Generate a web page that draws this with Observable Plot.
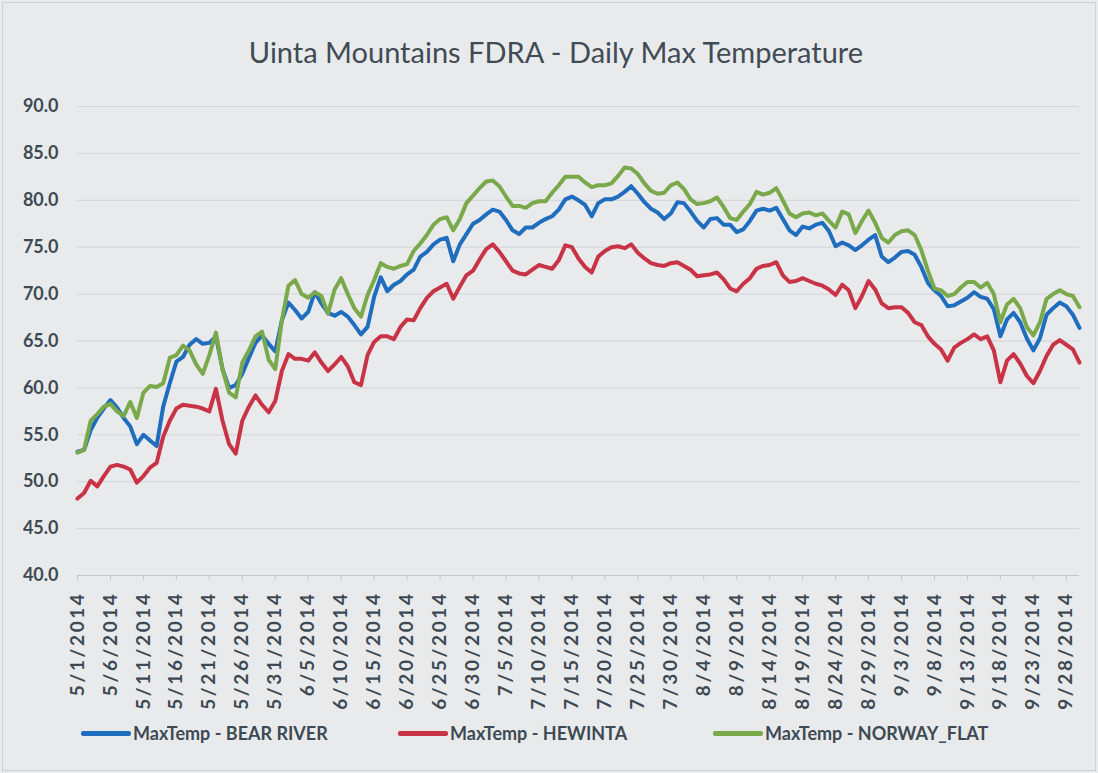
<!DOCTYPE html>
<html><head><meta charset="utf-8">
<script src="https://cdn.jsdelivr.net/npm/d3@7"></script>
<script src="https://cdn.jsdelivr.net/npm/@observablehq/plot@0.6"></script>
<style>
html,body{margin:0;padding:0;background:#e9eaec;}
body{width:1098px;height:773px;position:relative;overflow:hidden;font-family:Lato,"Open Sans",sans-serif;color:#3d4a53;}
#frame{position:absolute;left:2px;top:2px;right:2px;bottom:2px;border:1px solid #cfd0d2;}
#title{position:absolute;left:0;width:1112px;top:37px;text-align:center;font-size:29px;line-height:29px;color:#3f4c55;}
#chart{position:absolute;left:0;top:86px;}
#chart [aria-label="x-axis tick label"] text{letter-spacing:2.6px;}
.leg{position:absolute;top:723px;height:20px;display:flex;align-items:center;font-size:18px;font-weight:bold;white-space:nowrap;}
.leg .sw{display:inline-block;width:50px;height:5px;border-radius:2px;margin-right:2px;}
</style></head>
<body>
<div id="frame"></div>
<div id="title">Uinta Mountains FDRA - Daily Max Temperature</div>
<div id="chart"></div>
<div id="legend"></div>
<script>
// Series names and colours
const seriesNames = ["MaxTemp - BEAR RIVER", "MaxTemp - HEWINTA", "MaxTemp - NORWAY_FLAT"];
const seriesColors = ["#1f6dbf", "#c93346", "#79a94a"];
const legendLeft = [81, 398, 713];

// Categories: daily dates 5/1/2014 .. 9/30/2014
const startDate = new Date(Date.UTC(2014, 4, 1));
const endDate = new Date(Date.UTC(2014, 9, 1));
const dateLabels = d3.utcDay.range(startDate, endDate).map(d => `${d.getUTCMonth() + 1}/${d.getUTCDate()}/2014`);
const xTickLabels = dateLabels.filter((d, i) => i % 5 === 0);
const yTicks = [40, 45, 50, 55, 60, 65, 70, 75, 80, 85, 90];

// Series values (deg F), one per day
const bearRiver = [
53.2,53.4,55.5,56.8,57.8,58.7,57.9,56.8,55.9,54.0,
55.0,54.4,53.8,58.0,60.5,62.8,63.3,64.6,65.2,64.7,
64.8,65.5,62.0,60.0,60.3,61.5,63.2,64.8,65.6,64.7,
63.9,67.2,69.1,68.3,67.4,68.1,70.2,69.0,68.0,67.7,
68.1,67.6,66.7,65.7,66.5,69.7,71.8,70.3,71.0,71.4,
72.1,72.6,74.0,74.5,75.3,75.8,76.0,73.5,75.3,76.4,
77.5,77.9,78.5,79.0,78.8,77.9,76.8,76.4,77.1,77.1,
77.6,78.0,78.3,79.0,80.1,80.4,80.0,79.5,78.3,79.7,
80.1,80.1,80.4,80.9,81.5,80.7,79.8,79.1,78.7,78.0,
78.6,79.8,79.7,78.8,77.8,77.1,78.0,78.1,77.4,77.4,
76.6,76.9,77.8,78.9,79.1,78.9,79.2,78.0,76.8,76.3,
77.2,77.0,77.4,77.6,76.7,75.1,75.5,75.2,74.7,75.2,
75.8,76.3,74.0,73.4,73.9,74.5,74.6,74.2,72.9,71.2,
70.4,69.8,68.7,68.8,69.2,69.6,70.2,69.7,69.5,68.4,
65.5,67.3,68.0,67.0,65.3,64.0,65.3,67.8,68.5,69.1,
68.7,67.8,66.4];
const hewinta = [
48.2,48.8,50.1,49.5,50.6,51.6,51.8,51.6,51.3,49.9,
50.6,51.5,52.0,54.8,56.5,57.8,58.2,58.1,58.0,57.8,
57.5,59.9,56.5,54.0,53.0,56.5,58.0,59.2,58.2,57.4,
58.6,61.8,63.6,63.1,63.1,62.9,63.8,62.7,61.8,62.5,
63.3,62.3,60.6,60.3,63.5,64.9,65.5,65.5,65.2,66.5,
67.3,67.2,68.5,69.6,70.3,70.7,71.1,69.5,70.8,72.0,
72.5,73.7,74.8,75.3,74.5,73.5,72.5,72.2,72.1,72.6,
73.1,72.9,72.7,73.6,75.2,75.0,73.8,72.9,72.3,74.0,
74.6,75.0,75.1,74.9,75.3,74.4,73.8,73.3,73.1,73.0,
73.3,73.4,73.0,72.6,71.9,72.0,72.1,72.3,71.6,70.6,
70.3,71.1,71.7,72.7,73.0,73.1,73.4,72.0,71.3,71.4,
71.7,71.4,71.1,70.9,70.5,69.9,71.0,70.4,68.5,69.8,
71.4,70.5,69.0,68.5,68.6,68.6,68.0,67.0,66.7,65.5,
64.7,64.1,62.9,64.3,64.8,65.2,65.7,65.2,65.5,64.0,
60.6,62.9,63.6,62.6,61.3,60.5,61.8,63.4,64.6,65.1,
64.6,64.1,62.7];
const norwayFlat = [
53.1,53.4,56.5,57.2,58.0,58.3,57.5,57.0,58.5,56.8,
59.5,60.2,60.1,60.5,63.2,63.5,64.5,64.0,62.5,61.5,
63.5,65.9,62.0,59.5,59.0,62.7,64.0,65.5,66.0,63.0,
62.0,67.2,70.9,71.5,70.0,69.6,70.2,69.8,67.9,70.5,
71.7,70.0,68.5,67.6,69.9,71.5,73.3,72.9,72.7,73.0,
73.2,74.6,75.4,76.3,77.4,78.0,78.2,76.8,78.0,79.7,
80.5,81.3,82.0,82.1,81.5,80.4,79.4,79.4,79.2,79.7,
79.9,79.9,80.8,81.6,82.5,82.5,82.5,81.9,81.4,81.6,
81.6,81.8,82.6,83.5,83.4,82.8,81.8,81.0,80.7,80.8,
81.6,81.9,81.2,80.1,79.6,79.7,79.9,80.3,79.3,78.1,
77.9,78.8,79.6,80.9,80.6,80.8,81.3,80.0,78.6,78.2,
78.6,78.7,78.4,78.6,77.8,77.1,78.8,78.5,76.5,77.8,
78.9,77.6,76.0,75.5,76.3,76.7,76.8,76.3,74.7,72.5,
70.6,70.4,69.8,70.0,70.7,71.3,71.3,70.7,71.2,70.0,
67.0,68.9,69.5,68.5,66.5,65.6,67.0,69.5,70.0,70.4,
70.0,69.8,68.6];

const seriesValues = [bearRiver, hewinta, norwayFlat];
const rows = [];
seriesValues.forEach((vals, s) => vals.forEach((v, i) => rows.push({date: dateLabels[i], value: v, series: seriesNames[s]})));

const chart = Plot.plot({
  width: 1098,
  height: 617,
  marginTop: 20,
  marginBottom: 128,
  marginLeft: 77,
  marginRight: 19,
  style: {background: "transparent", fontFamily: "Lato, 'Open Sans', sans-serif", fontSize: "18px", color: "#3d4a53", overflow: "visible"},
  x: {type: "point", domain: dateLabels, padding: 0, label: null},
  y: {domain: [40, 90], label: null},
  color: {domain: seriesNames, range: seriesColors},
  marks: [
    Plot.ruleY(yTicks.filter(t => t > 40), {stroke: "#d2d4d7", strokeWidth: 1}),
    Plot.ruleY([40], {stroke: "#c3c5c8", strokeWidth: 1}),
    Plot.axisY({ticks: yTicks, tickFormat: d => d.toFixed(1), tickSize: 0, tickPadding: 19, fontWeight: "bold", fill: "#3d4a53", label: null}),
    Plot.axisX({ticks: xTickLabels, tickRotate: -90, tickSize: 5, tickPadding: 11, stroke: "#c3c5c8", fill: "#3d4a53", fontWeight: "bold", fontSize: 19, label: null}),
    Plot.line(rows, {x: "date", y: "value", stroke: "series", z: "series", strokeWidth: 4, strokeLinejoin: "round"})
  ]
});
document.getElementById("chart").appendChild(chart);

// Legend
const legend = document.getElementById("legend");
seriesNames.forEach((name, i) => {
  const item = document.createElement("div");
  item.className = "leg";
  item.style.left = legendLeft[i] + "px";
  const sw = document.createElement("span");
  sw.className = "sw";
  sw.style.background = seriesColors[i];
  item.appendChild(sw);
  item.appendChild(document.createTextNode(name));
  legend.appendChild(item);
});
</script>
</body></html>
